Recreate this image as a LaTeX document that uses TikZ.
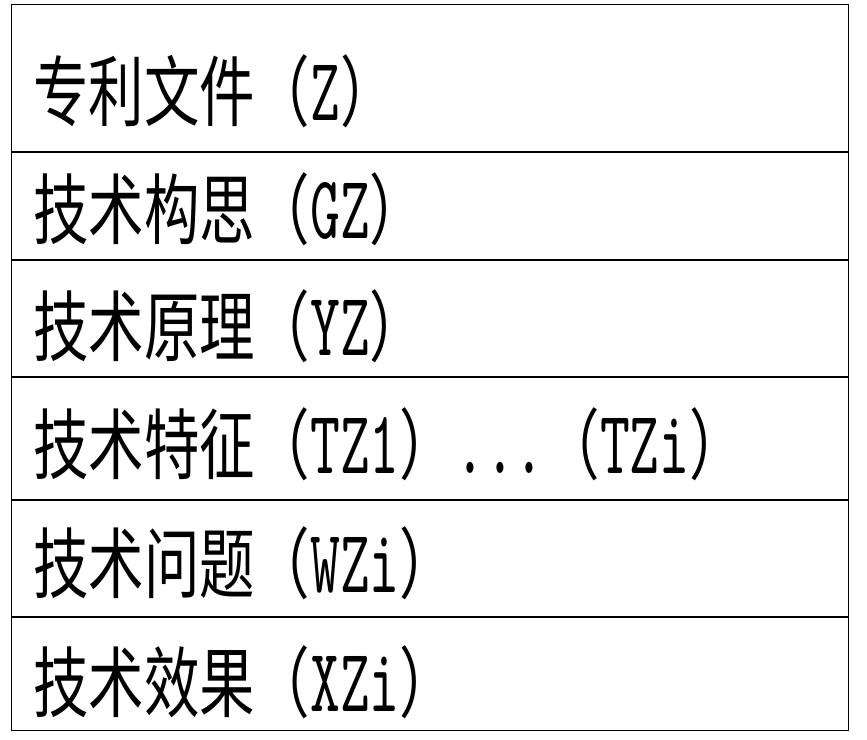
\documentclass[tikz,border=0pt]{standalone}
\usepackage{fontspec}
\usepackage{tikz}
\newfontfamily\cjk[FakeStretch=0.72]{Noto Sans CJK SC}
\newfontfamily\latmono[Scale=1.17,FakeStretch=0.63]{lmmono10-regular.otf}
\newcommand{\lat}[1]{{\latmono #1}}
\tikzset{rowtext/.style={anchor=base west, inner sep=0pt, font=\cjk\fontsize{77}{80}\selectfont},
	rule/.style={line width=1.5pt}}

\begin{document}
\begin{tikzpicture}[x=1pt,y=-1pt]
\useasboundingbox (0,0) rectangle (867,739);
\draw [rule] (11.5,4.5) rectangle (848.5,730.5);
\foreach \y in {152,260,377,500,617}
	\draw [rule] (11.5,\y) to (848.5,\y);

\node [rowtext] (zl) at (33,120) {专利文件（\lat{Z}）};
\node [rowtext] (gz) at (33,238) {技术构思（\lat{GZ}）};
\node [rowtext] (yz) at (33,355) {技术原理（\lat{YZ}）};
\node [rowtext] (tz) at (33,473) {技术特征（\lat{TZ1}）\lat{...}（\lat{TZi}）};
\node [rowtext] (wz) at (33,592) {技术问题（\lat{WZi}）};
\node [rowtext] (xz) at (33,711) {技术效果（\lat{XZi}）};

\end{tikzpicture}
\end{document}
